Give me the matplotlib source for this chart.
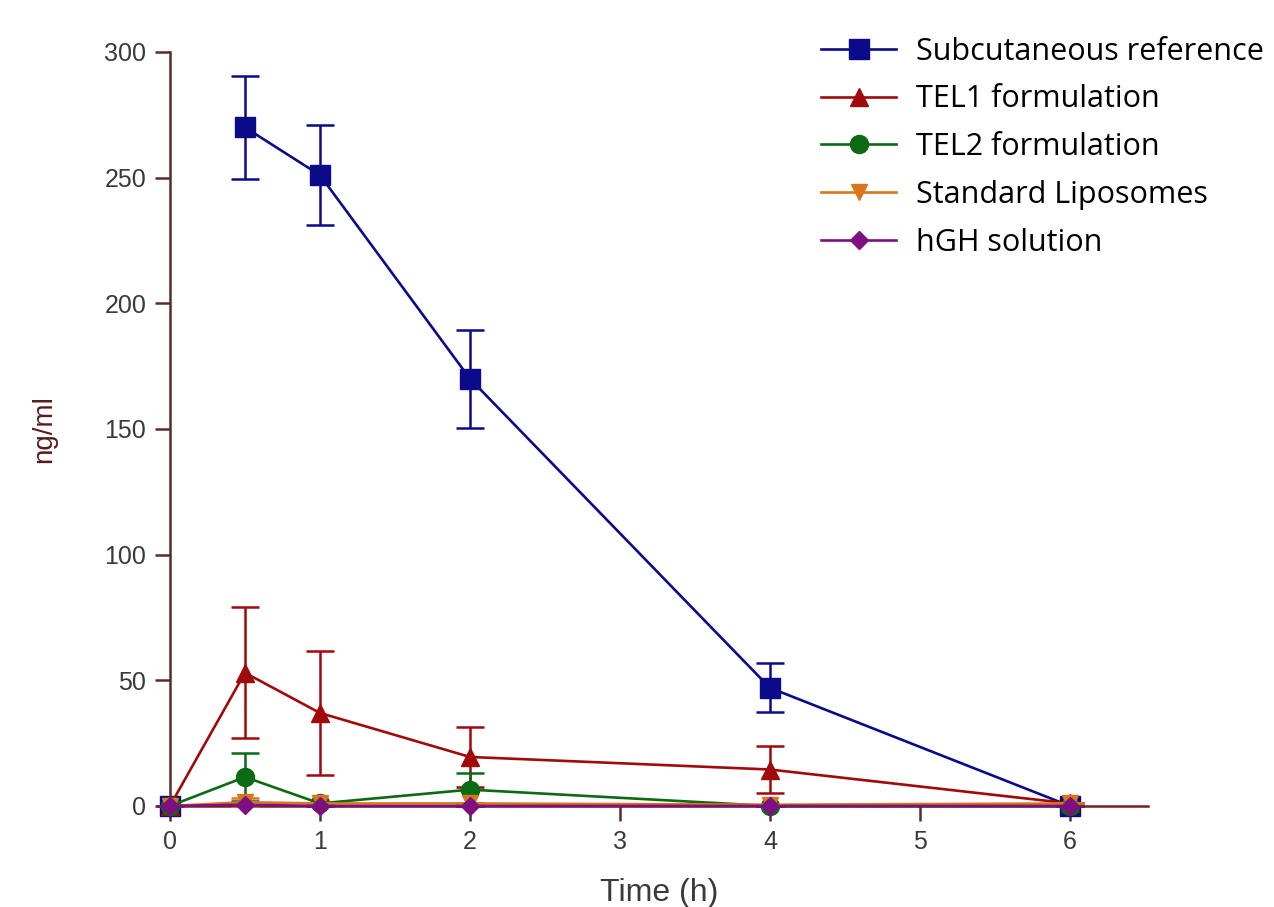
import numpy as np
import matplotlib.pyplot as plt

# time points (h)
time = [0, 0.5, 1, 2, 4, 6]

# mean plasma levels (ng/ml) and SD per group
subq_mean = [0, 270, 251, 170, 47, 0]
subq_sd = [0, 20.5, 20, 19.5, 9.8, 0]
tel1_mean = [0, 53, 37, 19.5, 14.5, 1]
tel1_sd = [0, 26, 24.5, 12, 9.5, 0]
tel2_mean = [0, 11.5, 1, 6.5, 0, 0]
tel2_sd = [0, 9.5, 0, 6.5, 0, 0]
lipo_mean = [0, 1.5, 1, 1, 0.5, 1]
lipo_sd = [0, 1.5, 0, 0, 0, 0]
sol_mean = [0, 0.5, 0, 0, 0, 0]
sol_sd = [0, 0, 0, 0, 0, 0]

labels = ['Subcutaneous reference', 'TEL1 formulation', 'TEL2 formulation',
          'Standard Liposomes', 'hGH solution']

series = [
    (subq_mean, subq_sd, '#0b0b8a', 's', 14),
    (tel1_mean, tel1_sd, '#a00a0a', '^', 13),
    (tel2_mean, tel2_sd, '#0b6a14', 'o', 13),
    (lipo_mean, lipo_sd, '#d8761c', 'v', 12),
    (sol_mean, sol_sd, '#7e0f80', 'D', 9),
]

axis_col = '#5a2a2a'
text_col = '#3a3a3a'

fig = plt.figure(figsize=(12.74, 9.07), dpi=100)
ax = fig.add_axes([0.1334, 0.1114, 0.901 - 0.1334, 0.9427 - 0.1114])

handles = []
for i, (m, sd, col, mk, ms) in enumerate(series):
    ax.errorbar(time, m, yerr=sd, fmt='none', ecolor=col, elinewidth=1.8,
                capsize=10, capthick=1.8, clip_on=False, zorder=2 + i)
    # the rising segment of the reference curve is barely visible in the source
    start = 1 if i == 0 else 0
    h, = ax.plot(time[start:], m[start:], color=col, lw=1.9, marker=mk, ms=ms,
                 clip_on=False, zorder=2 + i, label=labels[i])
    if start:
        ax.plot(time[:1], m[:1], ls='none', marker=mk, ms=ms, color=col,
                clip_on=False, zorder=2 + i)
    handles.append(h)

ax.set_xlim(0, 6.52)
ax.set_ylim(0, 300)
ax.set_xticks([0, 1, 2, 3, 4, 5, 6])
ax.set_yticks([0, 50, 100, 150, 200, 250, 300])

for s in ['top', 'right']:
    ax.spines[s].set_visible(False)
ax.spines['left'].set_color(axis_col)
ax.spines['bottom'].set_color('#7a1c1c')
ax.spines['left'].set_linewidth(1.8)
ax.spines['bottom'].set_linewidth(1.8)
ax.tick_params(axis='y', colors=axis_col, length=11, width=1.8,
               labelsize=18, labelcolor=text_col, pad=6)
ax.tick_params(axis='x', colors=axis_col, length=11, width=1.8,
               labelsize=18, labelcolor=text_col, pad=6)
for lab in ax.get_xticklabels() + ax.get_yticklabels():
    lab.set_family('Liberation Sans')

ax.set_ylabel('ng/ml', fontsize=20, color='#5a1a1a', family='Liberation Sans')
ax.yaxis.set_label_coords(-0.115, 0.5)
ax.set_xlabel('Time (h)', fontsize=23, color=text_col, family='Liberation Sans')
ax.xaxis.set_label_coords(0.5, -0.095)

fig.legend(handles=handles, loc='upper left', bbox_to_anchor=(0.635, 0.973),
           frameon=False, handlelength=2.45, handletextpad=0.65,
           labelspacing=0.58, numpoints=1, borderaxespad=0,
           prop={'family': 'Open Sans', 'size': 22})

fig.savefig('out.png', dpi=100)
